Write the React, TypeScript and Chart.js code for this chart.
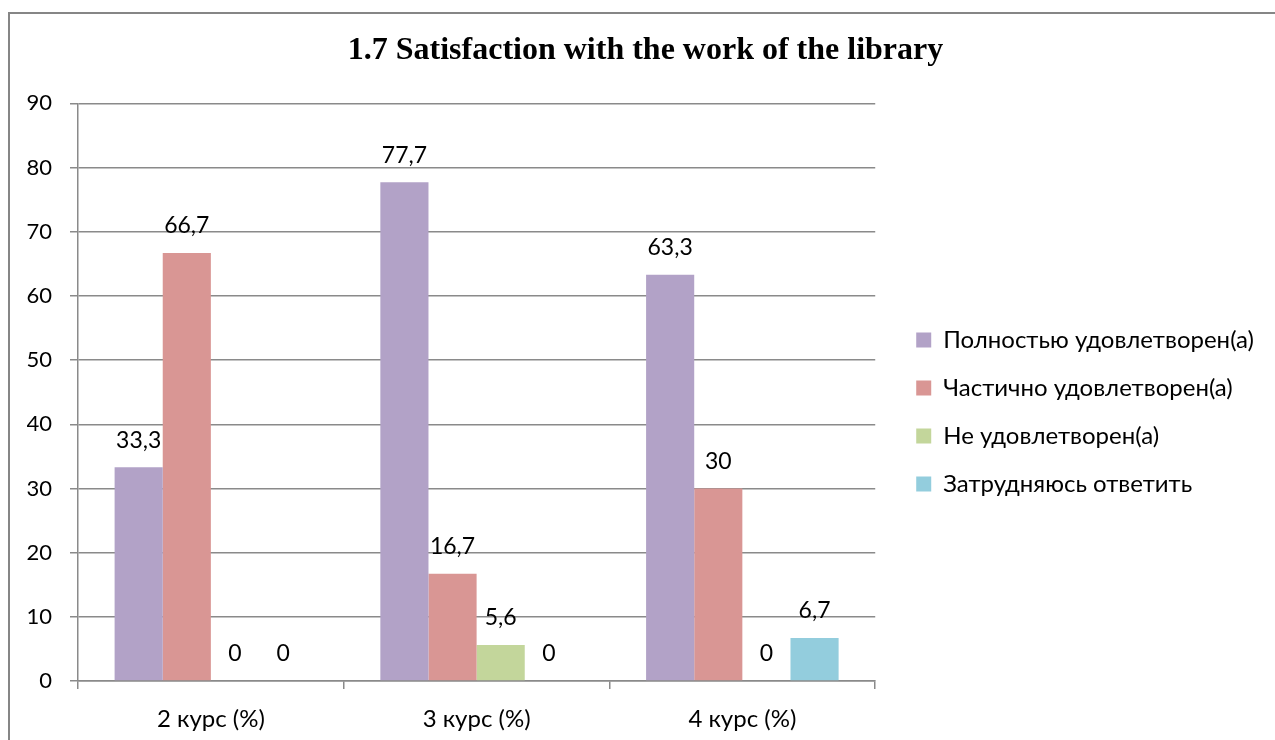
import React, { useEffect, useRef } from "react";
import { Chart, registerables } from "chart.js";

Chart.register(...registerables);

const categories = ["2 курс (%)", "3 курс (%)", "4 курс (%)"];
const seriesNames = [
  "Полностью удовлетворен(а)",
  "Частично удовлетворен(а)",
  "Не удовлетворен(а)",
  "Затрудняюсь ответить",
];
const fullySatisfied = [33.3, 77.7, 63.3];
const partlySatisfied = [66.7, 16.7, 30];
const notSatisfied = [0, 5.6, 0];
const hardToSay = [0, 0, 6.7];
const seriesColors = ["#B2A2C7", "#D99694", "#C3D69B", "#93CDDD"];
const titleText = "1.7 Satisfaction with the work of the library";

const FONT = "Lato";
const SERIF = "'Liberation Serif'";
const GRID = "#8a8a8a";

const valueLabels = {
  id: "valueLabels",
  afterDatasetsDraw(chart: any) {
    const ctx = chart.ctx;
    ctx.save();
    ctx.font = `23px ${FONT}`;
    ctx.fillStyle = "#000";
    ctx.textAlign = "center";
    ctx.textBaseline = "middle";
    chart.data.datasets.forEach((ds: any, i: number) => {
      const meta = chart.getDatasetMeta(i);
      meta.data.forEach((el: any, j: number) => {
        const v = ds.data[j];
        ctx.fillText(String(v).replace(".", ","), el.x, el.y - 27);
      });
    });
    ctx.restore();
  },
};

export default function App() {
  const ref = useRef<HTMLCanvasElement>(null);
  useEffect(() => {
    let chart: any = null;
    let cancelled = false;
    const build = () => {
      if (cancelled || !ref.current) return;
      const allData = [fullySatisfied, partlySatisfied, notSatisfied, hardToSay];
      chart = new Chart(ref.current, {
        type: "bar",
        data: {
          labels: categories,
          datasets: seriesNames.map((name, i) => ({
            label: name,
            data: allData[i],
            backgroundColor: seriesColors[i],
            borderWidth: 0,
            categoryPercentage: 0.7245,
            barPercentage: 1,
          })),
        },
        options: {
          responsive: false,
          animation: false,
          layout: { padding: { left: 17, right: 11, top: 0, bottom: 6 } },
          plugins: {
            title: {
              display: true,
              text: titleText,
              color: "#000",
              font: { family: SERIF, size: 32, weight: "bold" },
              padding: { top: 18, bottom: 33 },
            },
            legend: {
              position: "right",
              align: "start",
              maxWidth: 420,
              title: {
                display: true,
                text: " ",
                font: { family: FONT, size: 10 },
                padding: { top: 278, bottom: 0 },
              },
              labels: {
                boxWidth: 15,
                boxHeight: 15,
                padding: 24,
                color: "#000",
                font: { family: FONT, size: 24 },
              },
            },
            tooltip: { enabled: false },
          },
          scales: {
            x: {
              offset: true,
              grid: {
                offset: true,
                drawOnChartArea: false,
                drawTicks: true,
                tickLength: 8,
                color: GRID,
                lineWidth: 1.5,
              },
              border: { color: GRID, width: 1.5 },
              ticks: { color: "#000", font: { family: FONT, size: 24 }, padding: 16, maxRotation: 0 },
              afterFit: (s: any) => {
                s.height = 53;
              },
            },
            y: {
              min: 0,
              max: 90,
              ticks: { stepSize: 10, color: "#000", font: { family: FONT, size: 22 }, padding: 18 },
              grid: { color: GRID, lineWidth: 1.5, tickLength: 8 },
              border: { color: GRID, width: 1.5 },
              afterFit: (s: any) => {
                s.width = 51;
              },
            },
            yRight: {
              position: "right",
              display: true,
              grid: { display: false, drawTicks: false },
              ticks: { display: false },
              border: { display: false },
              afterFit: (s: any) => {
                s.width = 17;
              },
            },
          },
        },
        plugins: [valueLabels],
      });
    };
    const fonts = (document as any).fonts;
    if (fonts && fonts.load) {
      Promise.all([
        fonts.load(`22px ${FONT}`),
        fonts.load(`24px ${FONT}`),
        fonts.load(`bold 32px ${SERIF}`),
      ])
        .catch(() => null)
        .then(build);
    } else {
      build();
    }
    return () => {
      cancelled = true;
      if (chart) chart.destroy();
    };
  }, []);
  return (
    <div
      style={{
        position: "fixed",
        left: 8,
        top: 12,
        width: 1267,
        height: 728,
        borderTop: "2px solid #868686",
        borderLeft: "2px solid #868686",
        background: "#fff",
      }}
    >
      <canvas ref={ref} width={1265} height={726} style={{ display: "block" }} />
    </div>
  );
}
